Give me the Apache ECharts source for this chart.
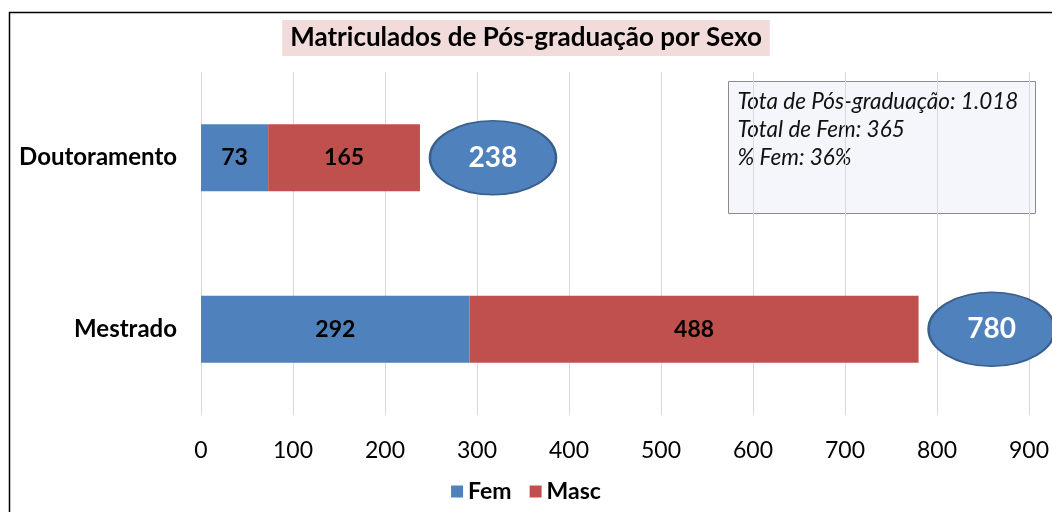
<html lang="pt">
<head>
<meta charset="UTF-8">
<title>Matriculados de Pós-graduação por Sexo</title>
<script src="https://cdn.jsdelivr.net/npm/echarts@6/dist/echarts.min.js"></script>
<style>
html,body{margin:0;padding:0;background:#fff;}
</style>
</head>
<body>
<div id="main" style="width:1052px;height:512px;"></div>
<script type="text/javascript">
var categorias = ['Doutoramento', 'Mestrado'];
var fem = [73, 292];
var masc = [165, 488];
var eixoTicks = [0, 100, 200, 300, 400, 500, 600, 700, 800, 900];

var totais = categorias.map(function(c, i){ return fem[i] + masc[i]; });
var totalFem = fem.reduce(function(a, b){ return a + b; }, 0);
var totalGeral = totais.reduce(function(a, b){ return a + b; }, 0);
function milhar(n){ return String(n).replace(/\B(?=(\d{3})+(?!\d))/g, '.'); }

var fonte = 'Lato, "Open Sans", sans-serif';
var chart = echarts.init(document.getElementById('main'));

var option = {
    animation: false,
    textStyle: { fontFamily: fonte },
    title: {
        text: 'Matriculados de Pós-graduação por Sexo',
        left: 'center',
        top: 20,
        padding: [5, 8, 5, 8],
        backgroundColor: '#F2DCDB',
        textStyle: { fontSize: 26, fontWeight: 'bold', color: '#000', fontFamily: fonte }
    },
    legend: {
        bottom: 4,
        left: 'center',
        itemWidth: 12,
        itemHeight: 12,
        itemGap: 18,
        icon: 'rect',
        data: ['Fem', 'Masc'],
        textStyle: { fontSize: 23, fontWeight: 'bold', color: '#000', fontFamily: fonte }
    },
    grid: { left: 201, right: 17, top: 72, bottom: 97 },
    xAxis: {
        type: 'value',
        min: 0,
        max: eixoTicks[eixoTicks.length - 1],
        interval: eixoTicks[1] - eixoTicks[0],
        axisLine: { show: false },
        axisTick: { show: false },
        splitLine: { lineStyle: { color: '#D9D9D9', width: 1 } },
        axisLabel: { fontSize: 23, color: '#000', margin: 24, fontFamily: fonte }
    },
    yAxis: {
        type: 'category',
        inverse: true,
        data: categorias,
        axisLine: { show: false },
        axisTick: { show: false },
        axisLabel: { fontSize: 24, fontWeight: 'bold', color: '#000', margin: 24, fontFamily: fonte }
    },
    series: [
        {
            name: 'Fem',
            type: 'bar',
            stack: 'total',
            barWidth: '39%',
            data: fem,
            itemStyle: { color: '#4F81BD' },
            label: { show: true, position: 'inside', fontSize: 23, fontWeight: 'bold', color: '#000', fontFamily: fonte }
        },
        {
            name: 'Masc',
            type: 'bar',
            stack: 'total',
            barWidth: '39%',
            data: masc,
            itemStyle: { color: '#C0504D' },
            label: { show: true, position: 'inside', fontSize: 23, fontWeight: 'bold', color: '#000', fontFamily: fonte }
        },
        {
            name: 'Total',
            type: 'scatter',
            data: totais.map(function(t, i){ return [t, categorias[i]]; }),
            symbol: 'circle',
            symbolSize: [126, 74],
            symbolOffset: [73, 0],
            itemStyle: { color: '#4F81BD', borderColor: '#3A5F8C', borderWidth: 2, opacity: 1 },
            label: {
                show: true,
                position: 'inside',
                formatter: function(p){ return p.value[0]; },
                fontSize: 28,
                fontWeight: 'bold',
                color: '#fff',
                fontFamily: fonte
            },
            z: 5
        }
    ],
    graphic: [
        {
            type: 'rect',
            shape: { x: 9.5, y: 12.5, width: 1100, height: 600 },
            style: { fill: 'none', stroke: '#000', lineWidth: 1.5 },
            silent: true,
            z: 100
        },
        {
            type: 'group',
            left: 728,
            top: 81,
            children: [
                {
                    type: 'rect',
                    shape: { x: 0, y: 0, width: 307, height: 132 },
                    style: { fill: '#F5F6FB', stroke: '#8C8C8C', lineWidth: 1 }
                },
                {
                    type: 'text',
                    left: 9,
                    top: 6,
                    style: {
                        text: 'Tota de Pós-graduação: ' + milhar(totalGeral) + '\nTotal de Fem: ' + totalFem +
                              '\n% Fem: ' + Math.round(totalFem / totalGeral * 100) + '%',
                        fontSize: 22.5,
                        fontStyle: 'italic',
                        lineHeight: 28,
                        fill: '#111',
                        fontFamily: fonte
                    }
                }
            ],
            z: 20
        }
    ]
};
chart.setOption(option);
</script>
</body>
</html>
